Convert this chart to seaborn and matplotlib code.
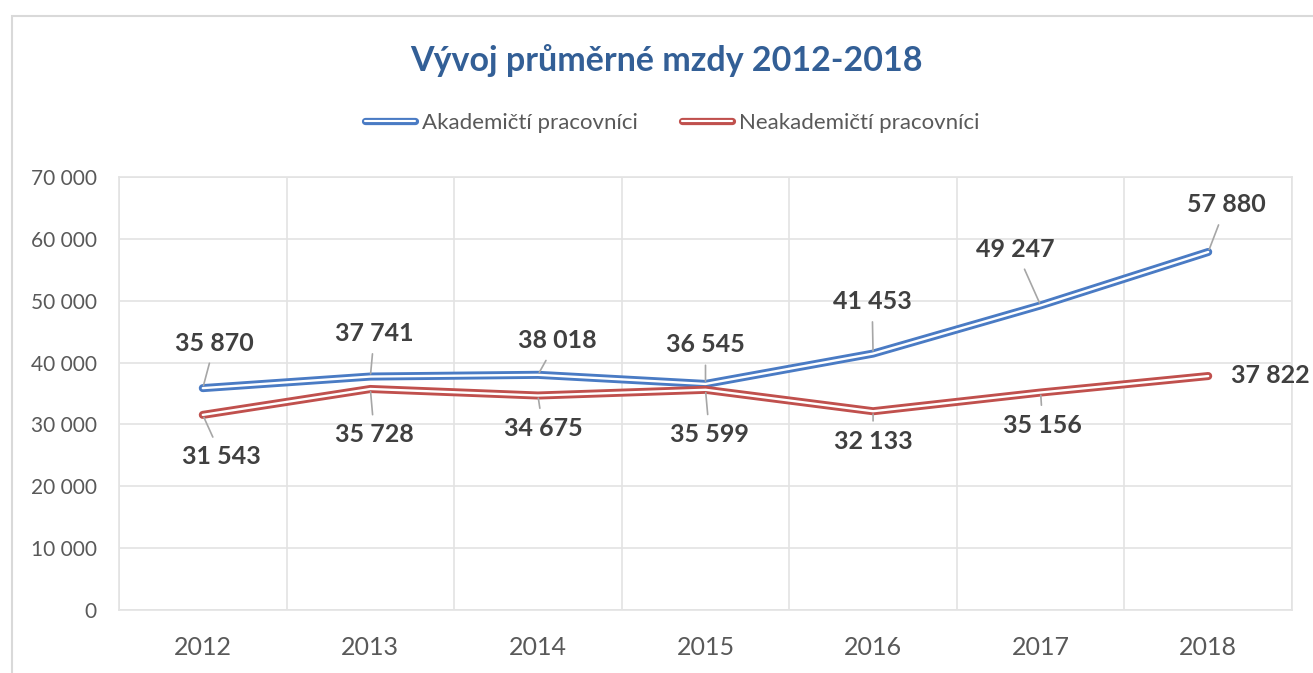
import numpy as np
import pandas as pd
import matplotlib
matplotlib.use("Agg")
import matplotlib.pyplot as plt
import seaborn as sns
from matplotlib.lines import Line2D
from matplotlib.legend_handler import HandlerTuple
from matplotlib.patches import Rectangle
from matplotlib.ticker import FuncFormatter

# ---- data ----
years = ["2012", "2013", "2014", "2015", "2016", "2017", "2018"]
akademicti = [35870, 37741, 38018, 36545, 41453, 49247, 57880]
neakademicti = [31543, 35728, 34675, 35599, 32133, 35156, 37822]
series_names = ["Akademičtí pracovníci", "Neakademičtí pracovníci"]
title = "Vývoj průměrné mzdy 2012-2018"

# label offsets in pixels (dx, dy) relative to point, and whether a leader is drawn
off_akad = [(12, 45), (4, 43), (19, 34), (0, 39), (-1, 52), (-25, 56), (18, 47)]
off_neak = [(19, -42), (4, -46), (5, -33), (4, -45), (0, -30), (2, -33), (62, 1)]
lead_akad = [True] * 7
lead_neak = [True] * 6 + [False]

colors = {series_names[0]: "#4A7BC4", series_names[1]: "#C0504D"}

df = pd.DataFrame({
    "Rok": years * 2,
    "Mzda": akademicti + neakademicti,
    "Skupina": [series_names[0]] * len(years) + [series_names[1]] * len(years),
})

sns.set_theme(style="white")
plt.rcParams["font.family"] = ["Lato", "DejaVu Sans"]

W, H = 1313, 673
fig = plt.figure(figsize=(W / 100, H / 100), dpi=100)
fig.patch.set_facecolor("white")

# outer chart frame
fig.patches.append(Rectangle((12 / W, -0.1), 1.2, (H - 16) / H + 0.1,
                             transform=fig.transFigure, fill=False,
                             edgecolor="#D9D9D9", linewidth=1.5))

ax = fig.add_axes([119 / W, (H - 610) / H, (1292 - 119) / W, (610 - 177) / H])
ax.set_facecolor("white")

outer_lw = 5.8
inner_lw = 1.7
for name in series_names:
    sub = df[df["Skupina"] == name]
    sns.lineplot(data=sub, x="Rok", y="Mzda", color=colors[name],
                 linewidth=outer_lw, ax=ax, legend=False, sort=False,
                 solid_joinstyle="miter")
    sns.lineplot(data=sub, x="Rok", y="Mzda", color="white",
                 linewidth=inner_lw, ax=ax, legend=False, sort=False,
                 solid_joinstyle="miter")

ax.set_xlim(-0.5, len(years) - 0.5)
ax.set_ylim(0, 70000)
ax.set_xticks(range(len(years)))
ax.set_xticklabels(years)
ax.set_xticks(np.arange(-0.5, len(years), 1), minor=True)
ax.set_yticks(np.arange(0, 70001, 10000))
ax.yaxis.set_major_formatter(FuncFormatter(lambda v, p: f"{int(v):,}".replace(",", " ")))
ax.grid(False)
ax.grid(which="major", axis="y", color="#E3E3E3", linewidth=1.2)
ax.grid(which="minor", axis="x", color="#E3E3E3", linewidth=1.2)
ax.set_axisbelow(True)
for s in ax.spines.values():
    s.set_color("#E3E3E3")
    s.set_linewidth(1.2)
ax.tick_params(axis="y", length=0, pad=16, labelsize=15, labelcolor="#595959")
ax.tick_params(axis="x", which="both", length=0, pad=19, labelsize=18, labelcolor="#595959")
ax.set_xlabel("")
ax.set_ylabel("")

def fmt(v):
    return f"{v:,}".replace(",", " ")

for vals, offs, leads in ((akademicti, off_akad, lead_akad), (neakademicti, off_neak, lead_neak)):
    for i, (v, (dx, dy), ld) in enumerate(zip(vals, offs, leads)):
        kw = {}
        if ld:
            kw["arrowprops"] = dict(arrowstyle="-", color="#A6A6A6", lw=1.2,
                                    shrinkA=4, shrinkB=2)
        ax.annotate(fmt(v), xy=(i, v), xytext=(dx, dy), textcoords="offset pixels",
                    ha="center", va="center", fontsize=18, fontweight="bold",
                    color="#404040", zorder=5, **kw)

fig.text(666 / W, 1 - 61 / H, title, ha="center", va="center", fontsize=24.5,
         fontweight="bold", color="#335F96")

handles = []
for name in series_names:
    h1 = Line2D([], [], color=colors[name], linewidth=outer_lw * 0.9)
    h2 = Line2D([], [], color="white", linewidth=inner_lw * 0.9)
    handles.append((h1, h2))
leg = fig.legend(handles, series_names, loc="center", bbox_to_anchor=(672 / W, 1 - 123 / H),
                 ncol=2, frameon=False, fontsize=16, handlelength=2.25,
                 handletextpad=0.3, columnspacing=2.0,
                 handler_map={tuple: HandlerTuple(ndivide=1)})
for t in leg.get_texts():
    t.set_color("#595959")

fig.savefig("out.png", dpi=100, facecolor="white")
